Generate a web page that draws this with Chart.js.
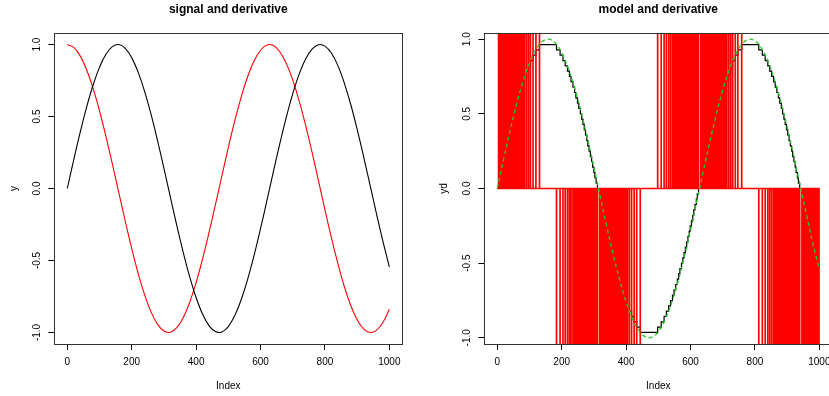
<!DOCTYPE html>
<html>
<head>
<meta charset="utf-8">
<script src="https://cdn.jsdelivr.net/npm/chart.js@4"></script>
<style>
	html, body { margin: 0; padding: 0; background: #fff; overflow: hidden; }
	.panneau { position: absolute; top: 0; width: 410px; height: 396px; }
	#gauche { left: 0; }
	#droite { left: 430px; }
</style>
</head>
<body>
<div class="panneau" id="gauche"><canvas id="graphique-signal" width="410" height="396"></canvas></div>
<div class="panneau" id="droite"><canvas id="graphique-modele" width="410" height="396"></canvas></div>
<script>
// Index échantillonnés (tous les 20 points)
const indices = [0, 20, 40, 60, 80, 100, 120, 140, 160, 180, 200, 220, 240, 260, 280, 300, 320, 340, 360, 380, 400,
	420, 440, 460, 480, 500, 520, 540, 560, 580, 600, 620, 640, 660, 680, 700, 720, 740, 760, 780, 800,
	820, 840, 860, 880, 900, 920, 940, 960, 980, 1000];
// Signal (noir à gauche, vert pointillé à droite)
const signal = [0, 0.199, 0.389, 0.565, 0.717, 0.841, 0.932, 0.985, 1.000, 0.974, 0.909, 0.808, 0.675, 0.516, 0.335, 0.141,
	-0.058, -0.256, -0.443, -0.612, -0.757, -0.872, -0.952, -0.994, -0.996, -0.959, -0.883, -0.773, -0.631, -0.465, -0.279,
	-0.083, 0.117, 0.312, 0.494, 0.657, 0.794, 0.899, 0.968, 0.999, 0.989, 0.941, 0.855, 0.734, 0.585, 0.412,
	0.223, 0.025, -0.174, -0.366, -0.544];
// Dérivée (rouge à gauche)
const derivee = [1.000, 0.980, 0.921, 0.825, 0.697, 0.540, 0.362, 0.170, -0.029, -0.227, -0.416, -0.589, -0.737, -0.857, -0.942, -0.990,
	-0.998, -0.967, -0.897, -0.791, -0.654, -0.490, -0.307, -0.112, 0.087, 0.284, 0.469, 0.635, 0.776, 0.886, 0.960,
	0.997, 0.993, 0.950, 0.869, 0.754, 0.608, 0.439, 0.253, 0.054, -0.146, -0.340, -0.519, -0.679, -0.811, -0.911,
	-0.975, -1.000, -0.985, -0.931, -0.839];

// Modèle en escalier : index où le niveau change, et nouveau niveau
const modeleX = [0,
	4, 8, 11, 15, 18, 22, 26, 29, 33, 37, 41, 45, 49, 53, 57, 61, 66, 70, 75, 80, 85, 91, 97, 103, 111, 120, 131,
	184, 195, 204, 211, 218, 224, 229, 235, 240, 244, 249, 253, 258, 262, 266, 270, 274, 278, 281, 285, 289, 293, 296, 300, 303, 307, 311,
	318, 321, 325, 328, 332, 336, 339, 343, 347, 351, 355, 358, 362, 367, 371, 375, 379, 384, 389, 394, 399, 404, 410, 417, 425, 433, 444,
	498, 509, 518, 525, 532, 538, 544, 549, 554, 559, 563, 567, 572, 576, 580, 584, 588, 592, 596, 599, 603, 607, 610, 614, 618, 621, 625,
	632, 635, 639, 643, 646, 650, 654, 657, 661, 665, 669, 673, 677, 681, 685, 689, 694, 698, 703, 708, 713, 719, 725, 731, 739, 747, 759,
	812, 823, 832, 840, 846, 852, 858, 863, 868, 873, 877, 882, 886, 890, 894, 898, 902, 906, 910, 914, 917, 921, 925, 928, 932, 935, 939,
	946, 950, 953, 957, 960, 964, 968, 971, 975, 979, 983, 987, 991, 995, 999,
	1000];
const modeleY = [0,
	0.036, 0.071, 0.107, 0.143, 0.179, 0.214, 0.25, 0.286, 0.321, 0.357, 0.393, 0.429, 0.464, 0.5, 0.536, 0.571, 0.607, 0.643, 0.679, 0.714, 0.75, 0.786, 0.821, 0.857, 0.893, 0.929, 0.964,
	0.929, 0.893, 0.857, 0.821, 0.786, 0.75, 0.714, 0.679, 0.643, 0.607, 0.571, 0.536, 0.5, 0.464, 0.429, 0.393, 0.357, 0.321, 0.286, 0.25, 0.214, 0.179, 0.143, 0.107, 0.071, 0.036, 0,
	-0.036, -0.071, -0.107, -0.143, -0.179, -0.214, -0.25, -0.286, -0.321, -0.357, -0.393, -0.429, -0.464, -0.5, -0.536, -0.571, -0.607, -0.643, -0.679, -0.714, -0.75, -0.786, -0.821, -0.857, -0.893, -0.929, -0.964,
	-0.929, -0.893, -0.857, -0.821, -0.786, -0.75, -0.714, -0.679, -0.643, -0.607, -0.571, -0.536, -0.5, -0.464, -0.429, -0.393, -0.357, -0.321, -0.286, -0.25, -0.214, -0.179, -0.143, -0.107, -0.071, -0.036, 0,
	0.036, 0.071, 0.107, 0.143, 0.179, 0.214, 0.25, 0.286, 0.321, 0.357, 0.393, 0.429, 0.464, 0.5, 0.536, 0.571, 0.607, 0.643, 0.679, 0.714, 0.75, 0.786, 0.821, 0.857, 0.893, 0.929, 0.964,
	0.929, 0.893, 0.857, 0.821, 0.786, 0.75, 0.714, 0.679, 0.643, 0.607, 0.571, 0.536, 0.5, 0.464, 0.429, 0.393, 0.357, 0.321, 0.286, 0.25, 0.214, 0.179, 0.143, 0.107, 0.071, 0.036, 0,
	-0.036, -0.071, -0.107, -0.143, -0.179, -0.214, -0.25, -0.286, -0.321, -0.357, -0.393, -0.429, -0.464, -0.5, -0.536,
	-0.536];
// Pas d'échantillonnage pour la dérivée du modèle
const pas = 0.01;

// Graduations
const xTicks = [0, 200, 400, 600, 800, 1000];
const yTicks = [-1, -0.5, 0, 0.5, 1];
const titres = ["signal and derivative", "model and derivative"];
const titresY = ["y", "yd"];

// Construction des points
const pointsSignal = indices.map((x, i) => ({ x: x, y: signal[i] }));
const pointsDerivee = indices.map((x, i) => ({ x: x, y: derivee[i] }));
const pointsModele = modeleX.map((x, i) => ({ x: x, y: modeleY[i] }));
const pointsDeriveeModele = [{ x: modeleX[0], y: 0 }];
for (let i = 1; i < modeleX.length; i++) {
	const saut = (modeleY[i] - modeleY[i - 1]) / pas;
	if (saut !== 0) {
		pointsDeriveeModele.push({ x: modeleX[i], y: 0 }, { x: modeleX[i], y: saut }, { x: modeleX[i], y: 0 });
	} else {
		pointsDeriveeModele.push({ x: modeleX[i], y: 0 });
	}
}

Chart.defaults.font.family = "'Liberation Sans', Arial, sans-serif";
Chart.defaults.color = "#000";
Chart.defaults.animation = false;

// Cadre autour de la zone de tracé (comme box() en R)
const cadre = {
	id: "cadre",
	afterDraw(chart) {
		const { ctx, chartArea } = chart;
		ctx.save();
		ctx.strokeStyle = "#333";
		ctx.lineWidth = 1;
		ctx.strokeRect(Math.round(chartArea.left) + 0.5, Math.round(chartArea.top) + 0.5,
			Math.round(chartArea.right - chartArea.left), Math.round(chartArea.bottom - chartArea.top));
		ctx.restore();
	}
};

function options(titre, titreY, yMax) {
	return {
		responsive: false,
		maintainAspectRatio: false,
		layout: { padding: { top: 0, right: 7.8, bottom: 0, left: 0 } },
		plugins: {
			legend: { display: false },
			tooltip: { enabled: false },
			title: {
				display: true,
				text: titre,
				fullSize: false,
				font: { size: 12, weight: "bold" },
				padding: { top: 2, bottom: 16.6 }
			}
		},
		elements: { point: { radius: 0 } },
		scales: {
			x: {
				type: "linear",
				min: -40,
				max: 1040,
				afterBuildTicks: (scale) => { scale.ticks = xTicks.map(v => ({ value: v })); },
				afterFit: (scale) => { scale.height = 52; },
				grid: { drawOnChartArea: false, drawTicks: true, tickLength: 6, color: "#000" },
				border: { display: true, color: "#000" },
				ticks: { font: { size: 10 }, padding: 6, maxRotation: 0, autoSkip: false, callback: (v) => String(v) },
				title: { display: true, text: "Index", font: { size: 10 }, padding: { top: 0, bottom: 3.5 } }
			},
			y: {
				type: "linear",
				min: -yMax,
				max: yMax,
				afterBuildTicks: (scale) => { scale.ticks = yTicks.map(v => ({ value: v })); },
				afterFit: (scale) => { scale.width = 54.4; },
				grid: { drawOnChartArea: false, drawTicks: true, tickLength: 6, color: "#000" },
				border: { display: true, color: "#000" },
				ticks: {
					font: { size: 10 }, padding: 3, minRotation: 90, maxRotation: 90, crossAlign: "center",
					autoSkip: false,
					callback: (v) => v.toFixed(1)
				},
				title: { display: true, text: titreY, font: { size: 10 }, padding: { top: 8, bottom: 0 } }
			}
		}
	};
}

new Chart(document.querySelector("#graphique-signal"), {
	type: "line",
	data: {
		datasets: [
			{ data: pointsSignal, borderColor: "#000", borderWidth: 1.1, tension: 0.4 },
			{ data: pointsDerivee, borderColor: "#ff0000", borderWidth: 1.1, tension: 0.4 }
		]
	},
	options: options(titres[0], titresY[0], 1.08),
	plugins: [cadre]
});

new Chart(document.querySelector("#graphique-modele"), {
	type: "line",
	data: {
		datasets: [
			{ data: pointsSignal, borderColor: "#22cc22", borderWidth: 1.3, borderDash: [4, 3], tension: 0.4, order: 0 },
			{ data: pointsDeriveeModele, borderColor: "#ff0000", borderWidth: 1.7, tension: 0, order: 1 },
			{ data: pointsModele, borderColor: "#000", borderWidth: 1.2, stepped: true, order: 2 }
		]
	},
	options: options(titres[1], titresY[1], 1.0414),
	plugins: [cadre]
});
</script>
</body>
</html>
